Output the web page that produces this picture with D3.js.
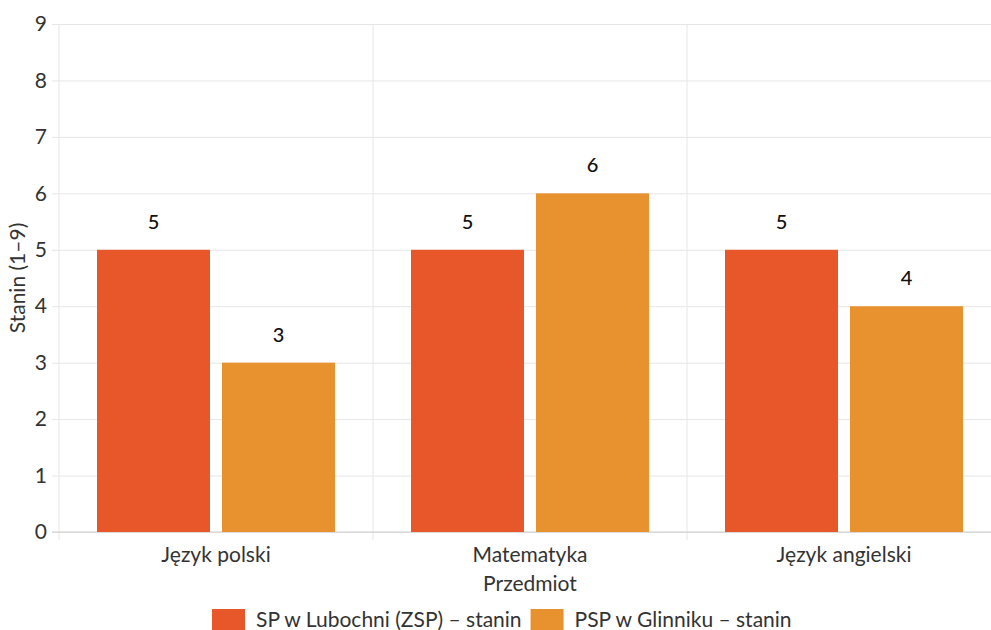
<!DOCTYPE html>
<html>
<head>
<meta charset="utf-8">
<script src="https://cdn.jsdelivr.net/npm/d3@7"></script>
<style>
  html, body { margin: 0; padding: 0; background: #fff; overflow: hidden; }
  svg { display: block; font-family: Lato, "Noto Sans", sans-serif; }
</style>
</head>
<body>
<svg id="chart" width="991" height="630"></svg>
<script>
// Stanin results per subject for two schools
const subjects = ["Język polski", "Matematyka", "Język angielski"];
const seriesNames = ["SP w Lubochni (ZSP) – stanin", "PSP w Glinniku – stanin"];
const lubochniValues = [5, 5, 5];
const glinnikValues = [3, 6, 4];
const yTicks = [0, 1, 2, 3, 4, 5, 6, 7, 8, 9];
const colors = ["#e8572a", "#e8912f"];

const svg = d3.select("#chart");
const margin = { left: 59, top: 24, right: 1001, bottom: 532 };
const fontSize = "21px";

const x = d3.scaleBand().domain(subjects).range([margin.left, margin.right]).padding(0);
const xInner = d3.scaleBand().domain([0, 1]).range([0, x.bandwidth()])
  .paddingInner(0.096).paddingOuter(0.304);
const y = d3.scaleLinear().domain([0, 9]).range([margin.bottom, margin.top]);

const series = [lubochniValues, glinnikValues];

// horizontal grid lines with short ticks on the left
const yAxis = d3.axisLeft(y).tickValues(yTicks).tickSize(-(margin.right - margin.left)).tickPadding(12);
const gy = svg.append("g").attr("transform", `translate(${margin.left},0)`).call(yAxis);
gy.select(".domain").remove();
gy.selectAll(".tick line").attr("stroke", "#e6e6e6").attr("x1", -7);
gy.selectAll(".tick text").attr("fill", "#333").style("font-size", fontSize).style("font-family", "Lato");

// vertical separators between categories and the left edge
const seps = [margin.left].concat(subjects.slice(1).map(s => x(s)));
svg.append("g").selectAll("line").data(seps).join("line")
  .attr("x1", d => d).attr("x2", d => d)
  .attr("y1", margin.top).attr("y2", margin.bottom + 8)
  .attr("stroke", "#e6e6e6");

// baseline
svg.append("line")
  .attr("x1", margin.left - 7).attr("x2", margin.right)
  .attr("y1", margin.bottom).attr("y2", margin.bottom)
  .attr("stroke", "#cccccc");

// bars with value labels
series.forEach((vals, si) => {
  const g = svg.append("g");
  g.selectAll("rect").data(subjects).join("rect")
    .attr("x", d => x(d) + xInner(si))
    .attr("width", xInner.bandwidth())
    .attr("y", (d, i) => y(vals[i]))
    .attr("height", (d, i) => y(0) - y(vals[i]))
    .attr("fill", colors[si]);
  g.selectAll("text").data(subjects).join("text")
    .attr("x", d => x(d) + xInner(si) + xInner.bandwidth() / 2)
    .attr("y", (d, i) => y(vals[i]) - 21)
    .attr("text-anchor", "middle")
    .attr("fill", "#111")
    .style("font-size", "20px")
    .style("font-weight", "500")
    .text((d, i) => vals[i]);
});

// category labels
svg.append("g").selectAll("text").data(subjects).join("text")
  .attr("x", d => x(d) + x.bandwidth() / 2)
  .attr("y", margin.bottom + 30)
  .attr("text-anchor", "middle")
  .attr("fill", "#333")
  .style("font-size", fontSize)
  .text(d => d);

// axis titles
svg.append("text")
  .attr("x", (margin.left + margin.right) / 2)
  .attr("y", 591)
  .attr("text-anchor", "middle")
  .attr("fill", "#333")
  .style("font-size", fontSize)
  .text("Przedmiot");

svg.append("text")
  .attr("transform", `translate(25,${(margin.top + margin.bottom) / 2}) rotate(-90)`)
  .attr("text-anchor", "middle")
  .attr("fill", "#333")
  .style("font-size", fontSize)
  .text("Stanin (1–9)");

// legend
const legend = svg.append("g").attr("transform", "translate(212,609)");
let lx = 0;
seriesNames.forEach((name, i) => {
  const item = legend.append("g").attr("transform", `translate(${lx},0)`);
  item.append("rect").attr("width", 33).attr("height", 21).attr("fill", colors[i]);
  const t = item.append("text").attr("x", 44).attr("y", 18)
    .attr("fill", "#333").style("font-size", fontSize).text(name);
  lx += 44 + t.node().getComputedTextLength() + 9;
});
</script>
</body>
</html>
